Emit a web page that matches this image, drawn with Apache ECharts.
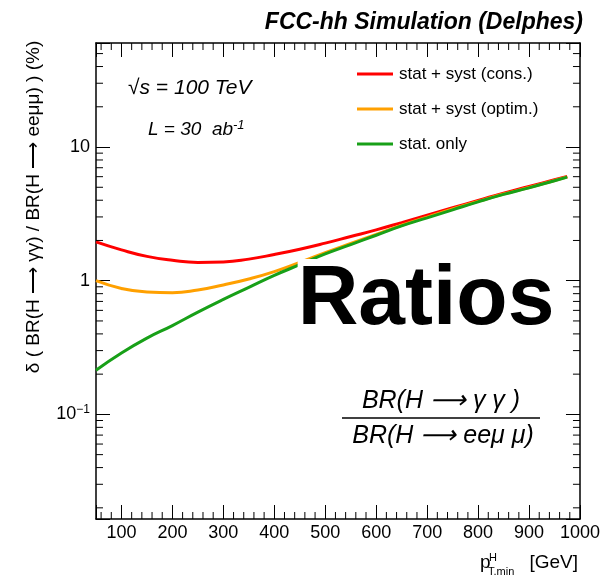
<!DOCTYPE html>
<html><head><meta charset="utf-8">
<script src="https://cdn.jsdelivr.net/npm/echarts@6/dist/echarts.min.js"></script>
<style>html,body{margin:0;padding:0;background:#fff}#c{width:603px;height:575px}</style>
</head><body><div id="c"></div>
<script>
// ---- data ----
const ptMin     = [50, 100, 150, 200, 250, 300, 350, 400, 450, 500, 550, 600, 650, 700, 750, 800, 850, 900, 950, 975];
const consSyst  = [1.95, 1.70, 1.52, 1.42, 1.37, 1.38, 1.45, 1.57, 1.72, 1.91, 2.14, 2.40, 2.72, 3.09, 3.51, 3.98, 4.52, 5.07, 5.69, 6.03];
const optimSyst = [1.00, 0.875, 0.822, 0.812, 0.852, 0.930, 1.03, 1.17, 1.37, 1.62, 1.90, 2.22, 2.60, 2.99, 3.44, 3.92, 4.45, 4.98, 5.62, 5.98];
const statOnly  = [0.214, 0.288, 0.372, 0.462, 0.582, 0.724, 0.891, 1.096, 1.318, 1.585, 1.862, 2.188, 2.57, 2.95, 3.39, 3.89, 4.42, 4.95, 5.60, 5.95];
const seriesNames = ['stat + syst (cons.)', 'stat + syst (optim.)', 'stat. only'];
const yTickLabels = {'-1': '10{sup|−1}', '0': '1', '1': '10'};

// ---- axis ranges / minor ticks ----
const xMin = 50, xMax = 1000, yMin = 0.0165, yMax = 60;
const xMinor = [];
for (let v = 60; v < 1000; v += 20) if (v % 100 !== 0) xMinor.push(v);
const yMinor = [];
[0.01, 0.1, 1, 10].forEach(d => { for (let m = 2; m <= 9; m++) { const v = m * d; if (v > yMin && v < yMax) yMinor.push(v); } });
const minorData = xMinor.map(v => [v, yMin, 0]).concat(yMinor.map(v => [xMin, v, 1]));

const FONT = 'Liberation Sans, Arial, Helvetica, sans-serif';
const chart = echarts.init(document.getElementById('c'), null, {renderer: 'canvas'});
const pair = (xs, ys) => xs.map((x, i) => [x, ys[i]]);
const colors = ['#ff0000', '#ffa000', '#18a018'];

const xBase = {
  type: 'value', min: xMin, max: xMax, splitNumber: 10,
  axisLine: {show: true, onZero: false, lineStyle: {color: '#000', width: 1.5}},
  axisTick: {show: true, inside: true, length: 14, lineStyle: {color: '#000', width: 1}},
  splitLine: {show: false}
};
const yBase = {
  type: 'log', logBase: 10, min: yMin, max: yMax,
  axisLine: {show: true, onZero: false, lineStyle: {color: '#000', width: 1.5}},
  axisTick: {show: true, inside: true, length: 14, lineStyle: {color: '#000', width: 1}},
  splitLine: {show: false}
};

const option = {
  animation: false,
  backgroundColor: '#fff',
  grid: {left: 96, right: 23, top: 43, bottom: 56, containLabel: false},
  xAxis: [
    Object.assign({}, xBase, {position: 'bottom',
      axisLabel: {show: true, margin: 5, color: '#000', fontFamily: FONT, fontSize: 18,
        formatter: v => (v % 100 === 0 ? String(v) : '')}}),
    Object.assign({}, xBase, {position: 'top', axisLabel: {show: false}})
  ],
  yAxis: [
    Object.assign({}, yBase, {position: 'left',
      axisLabel: {show: true, margin: 6, color: '#000', fontFamily: FONT, fontSize: 18,
        formatter: v => { const e = Math.log10(v); const r = Math.round(e); return Math.abs(e - r) < 1e-6 && yTickLabels[String(r)] ? yTickLabels[String(r)] : ''; },
        rich: {sup: {fontSize: 12, verticalAlign: 'top', padding: [0, 0, 10, 0], fontFamily: FONT, color: '#000'}}}}),
    Object.assign({}, yBase, {position: 'right', axisLabel: {show: false}})
  ],
  legend: {
    orient: 'vertical', left: 357, top: 65, padding: 0, itemWidth: 36, itemHeight: 3, itemGap: 17,
    icon: 'rect',
    data: seriesNames,
    textStyle: {fontFamily: FONT, fontSize: 17, lineHeight: 18, color: '#000', padding: [0, 0, 0, 1]}
  },
  series: [
    {name: seriesNames[0], type: 'line', data: pair(ptMin, consSyst), smooth: true, symbol: 'none', lineStyle: {color: colors[0], width: 3}, itemStyle: {color: colors[0]}, z: 3},
    {name: seriesNames[1], type: 'line', data: pair(ptMin, optimSyst), smooth: true, symbol: 'none', lineStyle: {color: colors[1], width: 3}, itemStyle: {color: colors[1]}, z: 3},
    {name: seriesNames[2], type: 'line', data: pair(ptMin, statOnly), smooth: true, symbol: 'none', lineStyle: {color: colors[2], width: 3}, itemStyle: {color: colors[2]}, z: 4},
    {
      type: 'custom', silent: true, clip: false, data: minorData, z: 5,
      renderItem: (params, api) => {
        const cs = params.coordSys;
        const p = api.coord([api.value(0), api.value(1)]);
        const st = {stroke: '#000', lineWidth: 1};
        if (api.value(2) === 0) {
          const b = cs.y + cs.height, t = cs.y;
          return {type: 'group', children: [
            {type: 'line', shape: {x1: p[0], y1: b, x2: p[0], y2: b - 7}, style: st},
            {type: 'line', shape: {x1: p[0], y1: t, x2: p[0], y2: t + 7}, style: st}]};
        }
        const l = cs.x, r = cs.x + cs.width;
        return {type: 'group', children: [
          {type: 'line', shape: {x1: l, y1: p[1], x2: l + 7, y2: p[1]}, style: st},
          {type: 'line', shape: {x1: r, y1: p[1], x2: r - 7, y2: p[1]}, style: st}]};
      }
    }
  ],
  graphic: [
    {type: 'text', x: 583, y: 23, z: 10, style: {text: 'FCC-hh Simulation (Delphes)', align: 'right', verticalAlign: 'middle', font: 'italic bold 23px ' + FONT, fill: '#000'}},
    {type: 'text', x: 128, y: 88, z: 10, style: {text: '√s = 100 TeV', align: 'left', verticalAlign: 'middle', font: 'italic 21px ' + FONT, fill: '#000'}},
    {type: 'text', x: 148, y: 130, z: 10, style: {text: 'L = 30  ab{s|-1}', align: 'left', verticalAlign: 'middle', font: 'italic 19px ' + FONT, fill: '#000',
      rich: {s: {font: 'italic 13px ' + FONT, verticalAlign: 'top', padding: [0, 0, 10, 0], fill: '#000'}}}},
    {type: 'text', x: 426, y: 301, z: 10, style: {text: 'Ratios', align: 'center', verticalAlign: 'middle', font: 'bold 84px ' + FONT, fill: '#000', backgroundColor: '#fff'}},
    {type: 'text', x: 441, y: 401, z: 10, style: {text: 'BR(H ⟶ γ γ )', align: 'center', verticalAlign: 'middle', font: 'italic 25px ' + FONT, fill: '#000'}},
    {type: 'line', z: 10, shape: {x1: 342, y1: 418, x2: 540, y2: 418}, style: {stroke: '#000', lineWidth: 1.5}},
    {type: 'text', x: 443, y: 436, z: 10, style: {text: 'BR(H ⟶ eeμ μ)', align: 'center', verticalAlign: 'middle', font: 'italic 25px ' + FONT, fill: '#000'}},
    {type: 'text', x: 34, y: 207, rotation: Math.PI / 2, z: 10, style: {text: 'δ ( BR(H ⟶ γγ) / BR(H ⟶ eeμμ) ) (%)', align: 'center', verticalAlign: 'middle', font: '19px ' + FONT, fill: '#000'}},
    {type: 'text', x: 480, y: 563, z: 10, style: {text: 'p', align: 'left', verticalAlign: 'middle', font: '19px ' + FONT, fill: '#000'}},
    {type: 'text', x: 489, y: 558, z: 10, style: {text: 'H', align: 'left', verticalAlign: 'middle', font: '11px ' + FONT, fill: '#000'}},
    {type: 'text', x: 488, y: 572, z: 10, style: {text: 'T,min', align: 'left', verticalAlign: 'middle', font: '11px ' + FONT, fill: '#000'}},
    {type: 'text', x: 578, y: 563, z: 10, style: {text: '[GeV]', align: 'right', verticalAlign: 'middle', font: '19px ' + FONT, fill: '#000'}}
  ]
};
chart.setOption(option);
</script>
</body></html>
